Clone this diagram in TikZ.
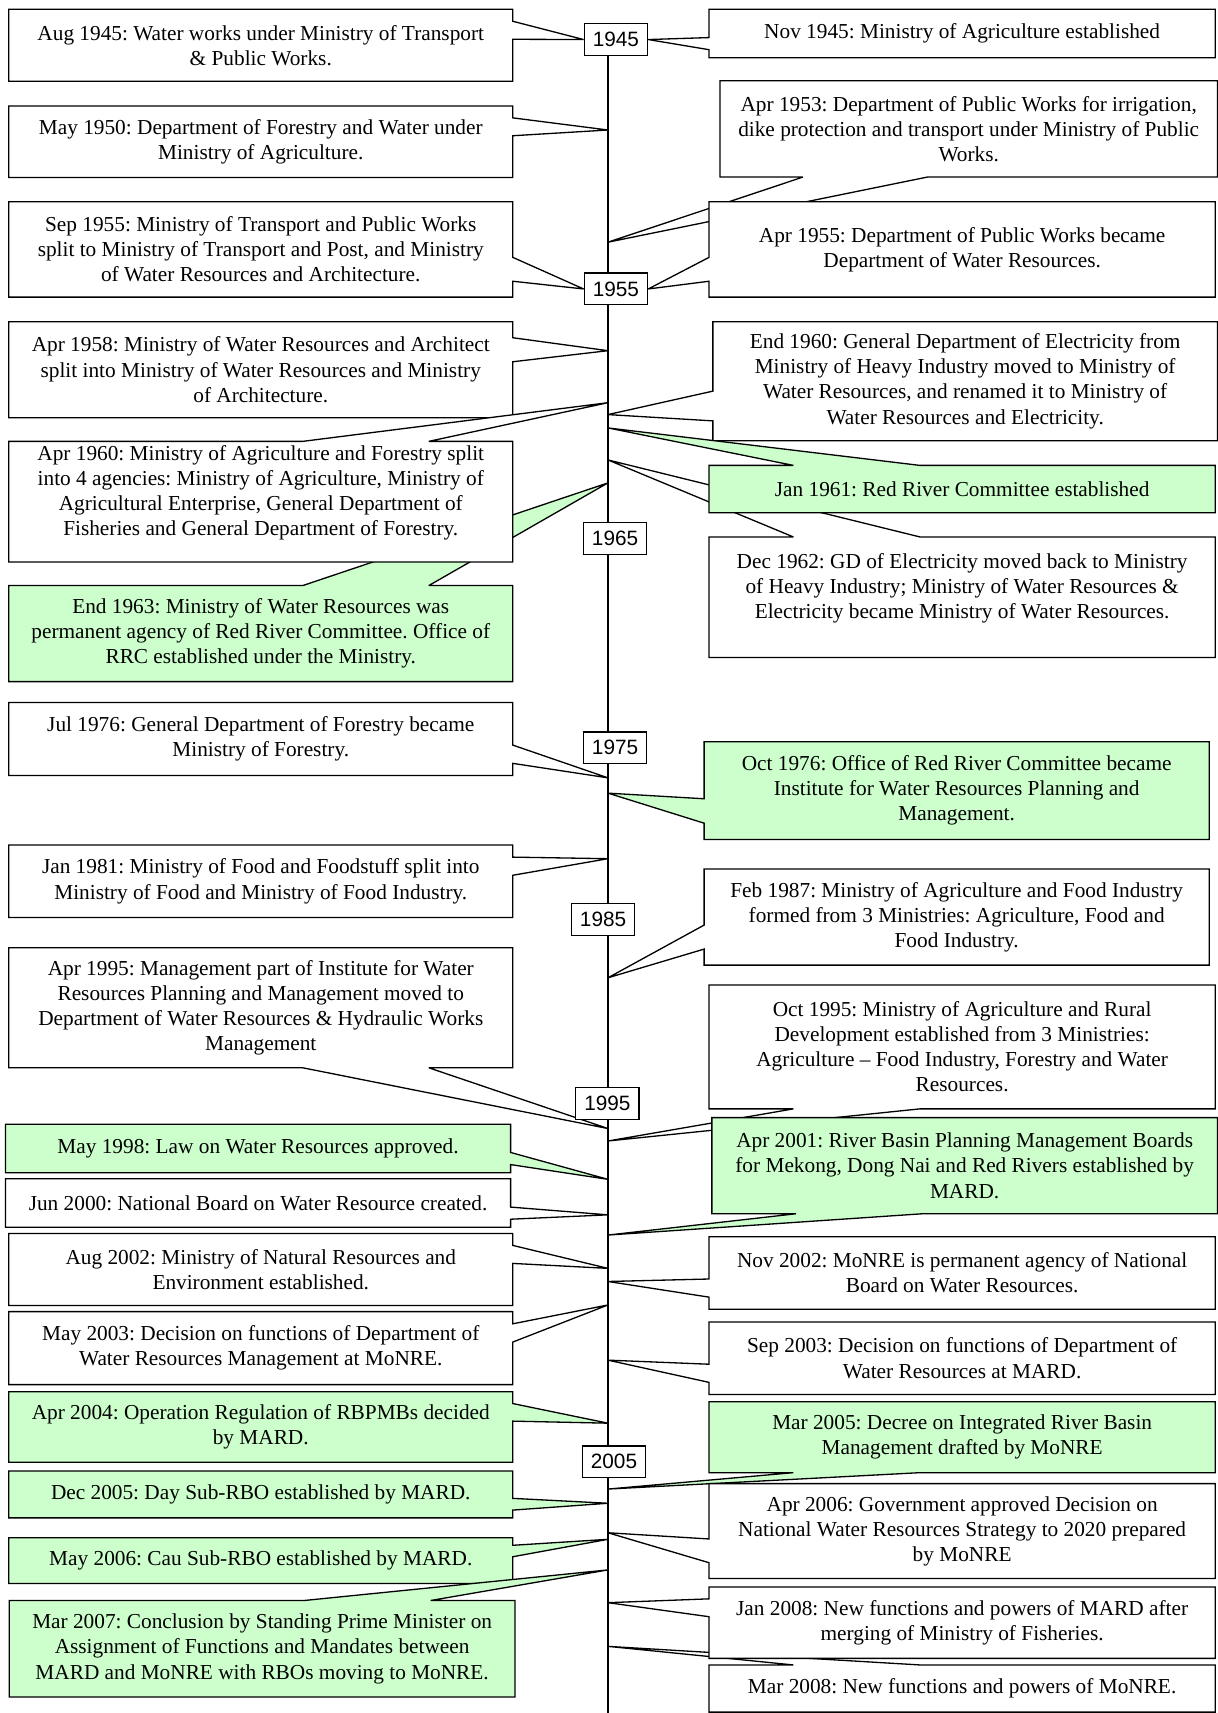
\documentclass[tikz,border=0pt]{standalone}
\usepackage{fontspec}
\setmainfont{Liberation Serif}
\newfontfamily\yearfont{Liberation Sans}
\usepackage{tikz}
\usetikzlibrary{calc, backgrounds}
\frenchspacing

\definecolor{mintgreen}{RGB}{204,255,204}

% callout outlines: [fill]{box}{tip}{start of wedge base, in twelfths}
\newcommand{\callR}[4][white]{%
  \begin{pgfonlayer}{background}
  \filldraw[outline, fill=#1] (#2.north west) -- (#2.north east)
    -- ($(#2.north east)!#4/12!(#2.south east)$) -- (#3)
    -- ($(#2.north east)!#4/12+0.25!(#2.south east)$)
    -- (#2.south east) -- (#2.south west) -- cycle;
  \end{pgfonlayer}}
\newcommand{\callL}[4][white]{%
  \begin{pgfonlayer}{background}
  \filldraw[outline, fill=#1] (#2.north east) -- (#2.north west)
    -- ($(#2.north west)!#4/12!(#2.south west)$) -- (#3)
    -- ($(#2.north west)!#4/12+0.25!(#2.south west)$)
    -- (#2.south west) -- (#2.south east) -- cycle;
  \end{pgfonlayer}}
\newcommand{\callT}[4][white]{%
  \begin{pgfonlayer}{background}
  \filldraw[outline, fill=#1] (#2.south west) -- (#2.north west)
    -- ($(#2.north west)!#4/12!(#2.north east)$) -- (#3)
    -- ($(#2.north west)!#4/12+0.25!(#2.north east)$)
    -- (#2.north east) -- (#2.south east) -- cycle;
  \end{pgfonlayer}}
\newcommand{\callB}[4][white]{%
  \begin{pgfonlayer}{background}
  \filldraw[outline, fill=#1] (#2.north west) -- (#2.south west)
    -- ($(#2.south west)!#4/12!(#2.south east)$) -- (#3)
    -- ($(#2.south west)!#4/12+0.25!(#2.south east)$)
    -- (#2.south east) -- (#2.north east) -- cycle;
  \end{pgfonlayer}}

\begin{document}
\begin{tikzpicture}[
  x=1pt, y=-1pt,
  outline/.style={draw=black, line width=1.2pt, miter limit=2},
  evt/.style 2 args={rectangle, inner sep=0pt, anchor=north west,
    minimum width=#1pt, minimum height=#2pt, align=center,
    font=\fontsize{19.5}{23}\selectfont},
  yearbox/.style={draw, fill=white, line width=1.2pt, inner sep=0pt,
    minimum width=58pt, minimum height=29pt,
    font={\yearfont\fontsize{19}{22}\selectfont}}
]
\useasboundingbox (0,0) rectangle (1114,1568);

% timeline
\coordinate (top) at (556.5,50);
\coordinate (bottom) at (556.5,1568);
\foreach \n/\y in {may50/119, apr53/221.7, apr58/321, apr60/368.6,
    end60/379.5, jan61/391.7, dec62/421, end63/442, jul76/712,
    oct76/726, jan81/786, feb87/895, apr95/1033, oct95/1044.4,
    may98/1079.5, jun00/1112, apr01/1130.5, aug02/1161, nov02/1173,
    may03/1194.5, sep03/1245, apr04/1302.7, mar05/1363, dec05/1376,
    apr06/1403, may06/1409, mar07/1437, jan08/1467, mar08/1507}
  \coordinate (t\n) at (556.5,\y);
\begin{pgfonlayer}{background}
  \draw[outline] (top) -- (bottom);
\end{pgfonlayer}

% years
\node[yearbox] (y45) at (563.8,36.2) {1945};
\node[yearbox] (y55) at (563.8,264.5) {1955};
\node[yearbox] (y65) at (563,493) {1965};
\node[yearbox] (y75) at (563,684.5) {1975};
\node[yearbox] (y85) at (552,841.5) {1985};
\node[yearbox] (y95) at (556,1010) {1995};
\node[yearbox] (y05) at (562,1338) {2005};

% events
\node[evt={461}{65.5}] (aug45) at (8,8.5) {Aug 1945: Water works under Ministry of Transport\\ \& Public Works.};
\node[evt={463}{44}] (nov45) at (649,8.5) {Nov 1945: Ministry of Agriculture established};
\node[evt={461}{65}] (may50) at (8,97) {May 1950: Department of Forestry and Water under\\ Ministry of Agriculture.};
\node[evt={455}{87.7}] (apr53) at (659,74) {Apr 1953: Department of Public Works for irrigation,\\ dike protection and transport under Ministry of Public\\ Works.};
\node[evt={461}{87}] (sep55) at (8,184.6) {Sep 1955: Ministry of Transport and Public Works\\ split to Ministry of Transport and Post, and Ministry\\ of Water Resources and Architecture.};
\node[evt={463}{87}] (apr55) at (649,184.6) {Apr 1955: Department of Public Works became\\ Department of Water Resources.};
\node[evt={461}{87.5}] (apr58) at (8,294.5) {Apr 1958: Ministry of Water Resources and Architect\\ split into Ministry of Water Resources and Ministry\\ of Architecture.};
\node[evt={461.5}{108.5}] (end60) at (652.5,294.5) {End 1960: General Department of Electricity from\\ Ministry of Heavy Industry moved to Ministry of\\ Water Resources, and renamed it to Ministry of\\ Water Resources and Electricity.};
\node[evt={461}{110}] (apr60) at (8,404) {Apr 1960: Ministry of Agriculture and Forestry split\\ into 4 agencies: Ministry of Agriculture, Ministry of\\ Agricultural Enterprise, General Department of\\ Fisheries and General Department of Forestry.\\[-3pt]\mbox{}};
\node[evt={463}{43}] (jan61) at (649,426) {Jan 1961: Red River Committee established};
\node[evt={463}{110}] (dec62) at (649,491.5) {Dec 1962: GD of Electricity moved back to Ministry\\ of Heavy Industry; Ministry of Water Resources \&\\ Electricity became Ministry of Water Resources.\\[-3pt]\mbox{}};
\node[evt={461}{87.5}] (end63) at (8,536) {End 1963: Ministry of Water Resources was\\ permanent agency of Red River Committee. Office of\\ RRC established under the Ministry.};
\node[evt={461}{66.5}] (jul76) at (8,643) {Jul 1976: General Department of Forestry became\\ Ministry of Forestry.};
\node[evt={462}{89}] (oct76) at (644.5,679) {Oct 1976: Office of Red River Committee became\\ Institute for Water Resources Planning and\\ Management.};
\node[evt={461}{66}] (jan81) at (8,773.5) {Jan 1981: Ministry of Food and Foodstuff split into\\ Ministry of Food and Ministry of Food Industry.};
\node[evt={462}{87.5}] (feb87) at (644.5,795.5) {Feb 1987: Ministry of Agriculture and Food Industry\\ formed from 3 Ministries: Agriculture, Food and\\ Food Industry.};
\node[evt={461}{109.5}] (apr95) at (8,867.5) {Apr 1995: Management part of Institute for Water\\ Resources Planning and Management moved to\\ Department of Water Resources \& Hydraulic Works\\ Management};
\node[evt={463}{113}] (oct95) at (649,901.6) {Oct 1995: Ministry of Agriculture and Rural\\ Development established from 3 Ministries:\\ Agriculture – Food Industry, Forestry and Water\\ Resources.};
\node[evt={462}{44}] (may98) at (5,1029) {May 1998: Law on Water Resources approved.};
\node[evt={462}{44}] (jun00) at (5,1079) {Jun 2000: National Board on Water Resource created.};
\node[evt={462.4}{87.6}] (apr01) at (651.6,1023) {Apr 2001: River Basin Planning Management Boards\\ for Mekong, Dong Nai and Red Rivers established by\\ MARD.};
\node[evt={461}{65.5}] (aug02) at (8,1129) {Aug 2002: Ministry of Natural Resources and\\ Environment established.};
\node[evt={463}{66}] (nov02) at (649,1132) {Nov 2002: MoNRE is permanent agency of National\\ Board on Water Resources.};
\node[evt={461}{66.4}] (may03) at (8,1200.6) {May 2003: Decision on functions of Department of\\ Water Resources Management at MoNRE.};
\node[evt={463}{66}] (sep03) at (649,1210) {Sep 2003: Decision on functions of Department of\\ Water Resources at MARD.};
\node[evt={461}{64}] (apr04) at (8,1274) {Apr 2004: Operation Regulation of RBPMBs decided\\ by MARD.};
\node[evt={463}{64.6}] (mar05) at (649,1283) {Mar 2005: Decree on Integrated River Basin\\ Management drafted by MoNRE};
\node[evt={461}{42.5}] (dec05) at (8,1346.5) {Dec 2005: Day Sub-RBO established by MARD.};
\node[evt={463}{86.5}] (apr06) at (649,1358) {Apr 2006: Government approved Decision on\\ National Water Resources Strategy to 2020 prepared\\ by MoNRE};
\node[evt={461}{41.5}] (may06) at (8,1407.5) {May 2006: Cau Sub-RBO established by MARD.};
\node[evt={462.5}{88}] (mar07) at (8.5,1465) {Mar 2007: Conclusion by Standing Prime Minister on\\ Assignment of Functions and Mandates between\\ MARD and MoNRE with RBOs moving to MoNRE.};
\node[evt={463}{65}] (jan08) at (649,1452.6) {Jan 2008: New functions and powers of MARD after\\ merging of Ministry of Fisheries.};
\node[evt={463}{42.8}] (mar08) at (649,1524) {Mar 2008: New functions and powers of MoNRE.};

% callouts, back to front
\callR{aug45}{y45.west}{2}
\callL{nov45}{y45.east}{7}
\callR{may50}{tmay50}{2}
\callB{apr53}{tapr53}{2}
\callR{sep55}{y55.west}{7}
\callL{apr55}{y55.east}{7}
\callR{apr58}{tapr58}{2}
\callL{end60}{tend60}{7}
\callT{dec62}{tdec62}{2}
\callT[mintgreen]{jan61}{tjan61}{2}
\callT[mintgreen]{end63}{tend63}{7}
\callT{apr60}{tapr60}{7}
\callR{jul76}{tjul76}{7}
\callL[mintgreen]{oct76}{toct76}{7}
\callR{jan81}{tjan81}{2}
\callL{feb87}{tfeb87}{7}
\callB{apr95}{tapr95}{7}
\callB{oct95}{toct95}{2}
\callR[mintgreen]{may98}{tmay98}{7}
\callR{jun00}{tjun00}{7}
\callB[mintgreen]{apr01}{tapr01}{2}
\callR{aug02}{taug02}{2}
\callL{nov02}{tnov02}{7}
\callR{may03}{tmay03}{2}
\callL{sep03}{tsep03}{7}
\callR[mintgreen]{apr04}{tapr04}{2}
\callB[mintgreen]{mar05}{tmar05}{2}
\callR[mintgreen]{dec05}{tdec05}{7}
\callL{apr06}{tapr06}{7}
\callR[mintgreen]{may06}{tmay06}{2}
\callT[mintgreen]{mar07}{tmar07}{7}
\callT{mar08}{tmar08}{2}
\callL{jan08}{tjan08}{2}

\end{tikzpicture}
\end{document}
